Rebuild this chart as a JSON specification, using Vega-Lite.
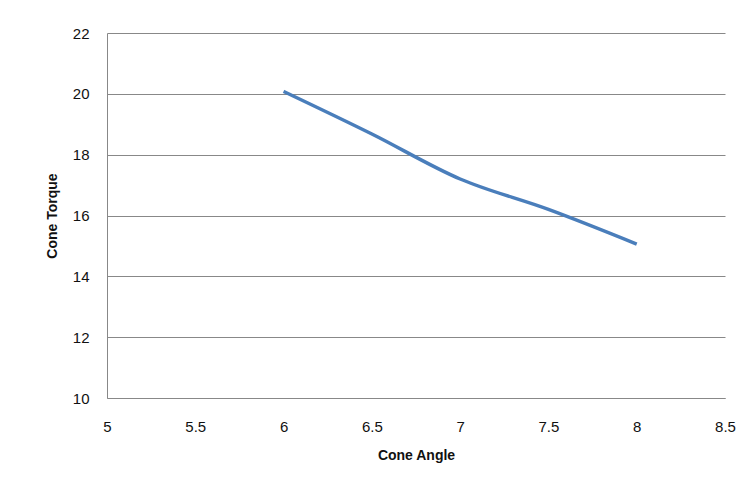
{
  "$schema": "https://vega.github.io/schema/vega-lite/v6.json",
  "autosize": "none",
  "width": 618,
  "height": 365,
  "padding": {"left": 107, "top": 33, "right": 26, "bottom": 92},
  "background": "white",
  "config": {
    "view": {"stroke": null},
    "font": "Liberation Sans"
  },
  "data": {
    "values": [
      {"angle": 6.0, "torque": 20.08},
      {"angle": 6.5, "torque": 18.68},
      {"angle": 7.0, "torque": 17.2},
      {"angle": 7.5, "torque": 16.2},
      {"angle": 8.0, "torque": 15.06}
    ]
  },
  "mark": {"type": "line", "color": "#4a7ebb", "strokeWidth": 3.5, "interpolate": "monotone"},
  "encoding": {
    "x": {
      "field": "angle", "type": "quantitative",
      "scale": {"domain": [5, 8.5], "nice": false, "zero": false},
      "axis": {
        "title": "Cone Angle", "values": [5, 5.5, 6, 6.5, 7, 7.5, 8, 8.5], "format": "~g",
        "grid": false, "ticks": false, "domain": true, "domainColor": "#888888",
        "labelPadding": 21, "labelFontSize": 15, "labelColor": "#111111",
        "titleFontSize": 14, "titleFontWeight": "bold", "titleColor": "#111111", "titlePadding": 14,
        "labelFlush": false
      }
    },
    "y": {
      "field": "torque", "type": "quantitative",
      "scale": {"domain": [10, 22], "nice": false, "zero": false},
      "axis": {
        "title": "Cone Torque", "values": [10, 12, 14, 16, 18, 20, 22],
        "grid": true, "gridColor": "#888888", "gridWidth": 1,
        "ticks": false, "domain": true, "domainColor": "#888888",
        "labelPadding": 18, "labelFontSize": 15, "labelColor": "#111111",
        "titleFontSize": 14, "titleFontWeight": "bold", "titleColor": "#111111", "titlePadding": 13,
        "labelFlush": false
      }
    }
  }
}
